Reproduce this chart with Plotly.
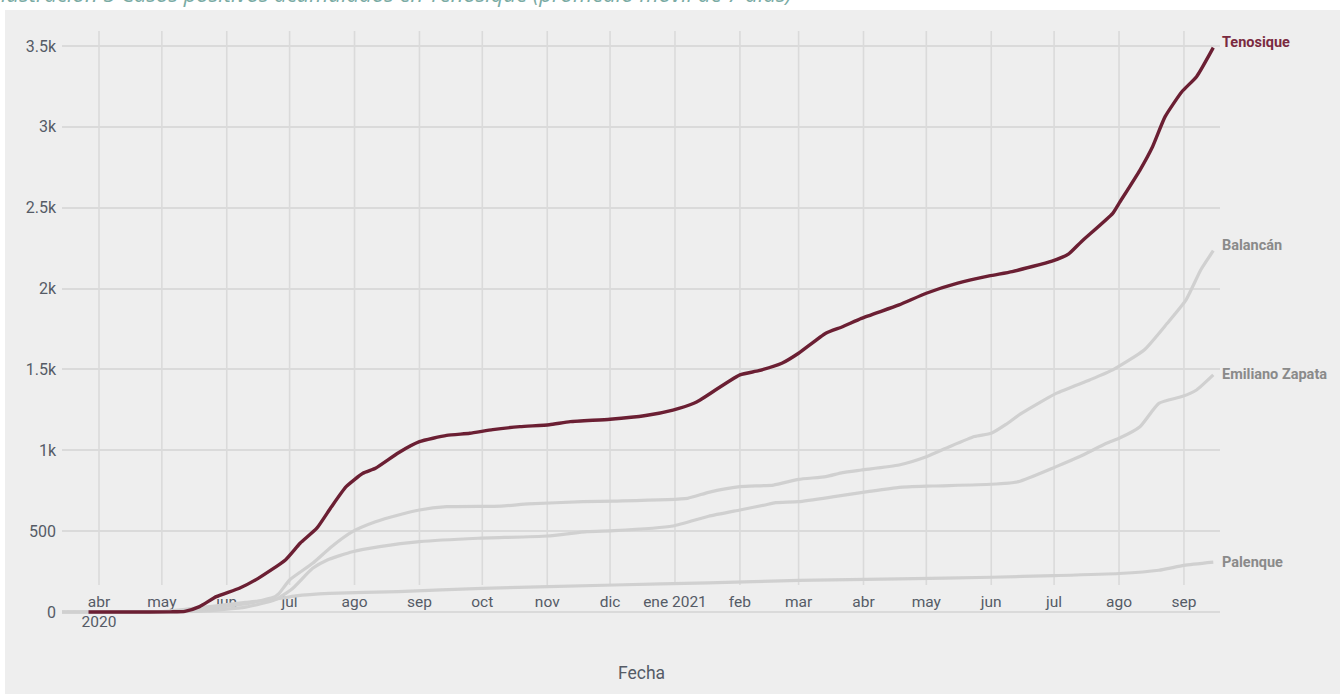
import plotly.graph_objects as go

# ---------------- data ----------------
ten_dates = ["2020-03-27","2020-04-15","2020-05-05","2020-05-12","2020-05-19","2020-05-27","2020-06-07","2020-06-16","2020-06-29",
             "2020-07-06","2020-07-14","2020-07-21","2020-07-28","2020-08-05","2020-08-11","2020-08-22",
             "2020-09-01","2020-09-14","2020-09-25","2020-10-06","2020-10-19","2020-11-02","2020-11-12",
             "2020-12-01","2020-12-18","2020-12-31","2021-01-10","2021-01-13","2021-02-01","2021-02-10",
             "2021-02-21","2021-03-01","2021-03-14","2021-03-22","2021-03-31","2021-04-18","2021-05-01",
             "2021-05-16","2021-05-31","2021-06-11","2021-06-30","2021-07-08","2021-07-14","2021-07-29",
             "2021-08-01","2021-08-11","2021-08-17","2021-08-23","2021-08-31","2021-09-07","2021-09-15"]
ten_vals = [0,0,1,4,33,95,147,208,322,
            425,518,651,775,858,889,985,
            1053,1092,1105,1128,1146,1158,1177,
            1192,1215,1249,1291,1311,1466,1492,
            1538,1600,1724,1764,1816,1899,1971,
            2033,2078,2105,2170,2215,2290,2465,
            2527,2733,2877,3063,3217,3310,3490]

bal_dates = ["2020-03-14","2020-04-20","2020-05-10","2020-05-25","2020-06-12","2020-06-24","2020-06-26","2020-07-01",
             "2020-07-12","2020-07-21","2020-07-31","2020-08-11","2020-08-22","2020-09-01","2020-09-14",
             "2020-10-10","2020-10-23","2020-11-18","2020-12-03","2021-01-07","2021-01-17","2021-02-01",
             "2021-02-17","2021-03-01","2021-03-14","2021-03-22","2021-03-31","2021-04-18","2021-05-01",
             "2021-05-12","2021-05-24","2021-06-01","2021-06-08","2021-06-15","2021-07-02","2021-07-18",
             "2021-07-29","2021-08-13","2021-08-24","2021-09-02","2021-09-09","2021-09-15"]
bal_vals = [0,1,3,25,55,95,115,198,
            301,404,497,558,600,631,651,
            655,668,682,686,703,740,775,
            785,820,837,862,878,909,960,
            1022,1085,1105,1160,1225,1352,1435,
            1497,1620,1785,1930,2115,2234]

ez_dates = ["2020-03-14","2020-04-20","2020-05-20","2020-06-10","2020-06-24","2020-07-02","2020-07-12","2020-07-19",
            "2020-07-31","2020-08-13","2020-09-01","2020-09-29","2020-11-01","2020-11-20","2020-12-03",
            "2020-12-31","2021-01-17","2021-02-01","2021-02-13","2021-02-18","2021-03-01","2021-03-18",
            "2021-04-03","2021-04-18","2021-05-04","2021-06-01","2021-06-14","2021-07-02","2021-07-13",
            "2021-07-26","2021-08-01","2021-08-11","2021-08-20","2021-08-31","2021-09-07","2021-09-15"]
ez_vals = [0,1,5,30,75,140,270,322,
           373,404,435,456,470,497,503,
           532,592,631,662,676,682,713,
           744,771,779,790,806,899,960,
           1043,1074,1146,1290,1332,1373,1466]

pal_dates = ["2020-03-14","2020-04-15","2020-05-01","2020-05-25","2020-06-10","2020-06-24","2020-07-04","2020-07-20",
             "2020-08-22","2020-10-01","2020-12-03","2021-01-17","2021-03-01","2021-04-18","2021-06-01",
             "2021-07-01","2021-08-01","2021-08-20","2021-09-01","2021-09-15"]
pal_vals = [0,1,3,35,60,78,100,115,
            126,146,167,180,195,205,215,
            225,238,258,288,308]

series_names = ["Palenque", "Emiliano Zapata", "Balancán", "Tenosique"]

tick_dates = ["2020-04-01","2020-05-01","2020-06-01","2020-07-01","2020-08-01","2020-09-01",
              "2020-10-01","2020-11-01","2020-12-01","2021-01-01","2021-02-01","2021-03-01",
              "2021-04-01","2021-05-01","2021-06-01","2021-07-01","2021-08-01","2021-09-01"]
tick_labels = ["abr<br>2020","may","jun","jul","ago","sep","oct","nov","dic","ene 2021",
               "feb","mar","abr","may","jun","jul","ago","sep"]

y_ticks = [0, 500, 1000, 1500, 2000, 2500, 3000, 3500]
y_tick_labels = ["0", "500", "1k", "1.5k", "2k", "2.5k", "3k", "3.5k"]

title_text = "Ilustración 5 Casos positivos acumulados en Tenosique (promedio móvil de 7 días)"
x_title = "Fecha"

# ---------------- layout geometry ----------------
W, H = 1340, 694
PL, PR, PT, PB = 62, 1220, 20, 640          # plot area in pixels
Y0_PX, YTOP_PX = 612, 46                    # pixel of 0 and 3500
pxu = (Y0_PX - YTOP_PX) / 3500.0
y_lo = -(PB - Y0_PX) / pxu
y_hi = (Y0_PX - PT) / pxu
pw, ph = PR - PL, PB - PT

def py(pix):  # figure pixel y -> paper y
    return (PB - pix) / ph

def px(pix):  # figure pixel x -> paper x
    return (pix - PL) / pw

FONT = "Roboto, sans-serif"
GRAY = "#d0d0d0"
MAROON = "#6b1f33"
BG = "#eeeeee"
GRID = "#dadada"
TXT = "#555b66"

fig = go.Figure()
gray_series = [(pal_dates, pal_vals), (ez_dates, ez_vals), (bal_dates, bal_vals)]
for (d, v), name in zip(gray_series, series_names[:3]):
    fig.add_trace(go.Scatter(x=d, y=v, mode="lines", name=name,
                             line=dict(color=GRAY, width=3.2, shape="spline", smoothing=0.5)))
fig.add_trace(go.Scatter(x=ten_dates, y=ten_vals, mode="lines", name="Tenosique",
                         line=dict(color=MAROON, width=3.4, shape="spline", smoothing=0.5)))

# end labels
end_info = [(pal_dates, pal_vals, "Palenque", "#8a8a8a", 0),
            (ez_dates, ez_vals, "Emiliano Zapata", "#8a8a8a", 0),
            (bal_dates, bal_vals, "Balancán", "#8a8a8a", 5),
            (ten_dates, ten_vals, "Tenosique", "#7a2a40", 5)]
for d, v, name, col, ys in end_info:
    fig.add_annotation(x=d[-1], y=v[-1], text="<b>%s</b>" % name, showarrow=False,
                       xanchor="left", yanchor="middle", xshift=7, yshift=ys,
                       font=dict(family=FONT, size=14.5, color=col))

# vertical grid lines (stop above tick labels)
grid_lo = (Y0_PX - 585) / pxu
grid_hi = (Y0_PX - 31) / pxu
for d in tick_dates:
    fig.add_shape(type="line", xref="x", yref="y", x0=d, x1=d, y0=grid_lo, y1=grid_hi,
                  line=dict(color=GRID, width=1.6), layer="below")

# white page strips around the chart image
fig.add_shape(type="rect", xref="paper", yref="paper", x0=px(-5), x1=px(W + 5), y0=py(10), y1=py(-5),
              fillcolor="white", line=dict(width=0), layer="above")
fig.add_shape(type="rect", xref="paper", yref="paper", x0=px(-5), x1=px(5), y0=py(H + 5), y1=py(-5),
              fillcolor="white", line=dict(width=0), layer="above")

# caption (partly cut off at the top, as in the source image)
fig.add_annotation(xref="paper", yref="paper", x=px(-7), y=py(-7), xanchor="left", yanchor="middle",
                   text=title_text, showarrow=False,
                   font=dict(family="Open Sans, sans-serif", size=22, color="#7aaba4", style="italic"))
# x axis title
fig.add_annotation(xref="paper", yref="paper", x=0.5, y=py(673), xanchor="center", yanchor="middle",
                   text=x_title, showarrow=False, font=dict(family=FONT, size=17.5, color=TXT))

fig.update_layout(
    width=W, height=H,
    margin=dict(l=PL, r=W - PR, t=PT, b=H - PB, pad=0),
    paper_bgcolor=BG, plot_bgcolor=BG,
    showlegend=False,
    font=dict(family=FONT, size=15.5, color=TXT),
    xaxis=dict(type="date", range=["2020-03-14 08:00", "2021-09-18 05:00"],
               tickvals=tick_dates, ticktext=tick_labels, tickangle=0,
               showgrid=False, zeroline=False, showline=False, ticks="",
               anchor="free", position=py(590), layer="below traces",
               tickfont=dict(family=FONT, size=15.5, color=TXT)),
    yaxis=dict(range=[y_lo, y_hi], tickvals=y_ticks, ticktext=y_tick_labels,
               showgrid=True, gridcolor=GRID, gridwidth=1.6,
               zeroline=True, zerolinecolor=GRID, zerolinewidth=1.6,
               showline=False, ticks="", ticklabelstandoff=5,
               tickfont=dict(family=FONT, size=16, color=TXT)),
)

fig.write_html("out.html", config={"displayModeBar": False},
               post_script="document.body.style.margin='0px';document.body.style.overflow='hidden';")
